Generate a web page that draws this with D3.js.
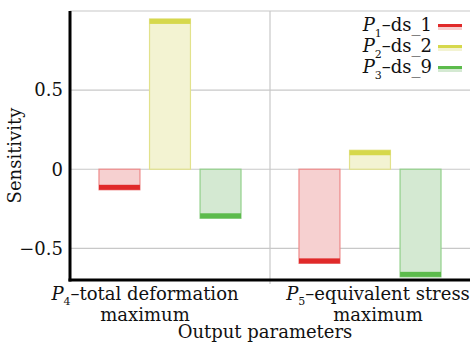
<!DOCTYPE html>
<html>
<head>
<meta charset="utf-8">
<script src="https://cdn.jsdelivr.net/npm/d3@7"></script>
<style>
  body { margin: 0; background: #fff; }
  text { font-family: "DejaVu Serif", serif; fill: #111; }
</style>
</head>
<body>
<svg id="chart" width="470" height="342"></svg>
<script>
// ── Data ──────────────────────────────────────────────────────────────────────
const categories = ['P4', 'P5'];
const categoryNames = [
  { sym: 'P', sub: '4', rest: '–total deformation', line2: 'maximum' },
  { sym: 'P', sub: '5', rest: '–equivalent stress', line2: 'maximum' }
];
const seriesNames = ['ds_1', 'ds_2', 'ds_9'];
const seriesSubs = ['1', '2', '3'];
const ds1 = [-0.13, -0.595];
const ds2 = [0.95, 0.12];
const ds9 = [-0.31, -0.68];
const yTicks = [-0.5, 0, 0.5];

const colors = [
  { cap: '#e02a2a', fill: '#f6d0d0', stroke: '#ee8a8a' },
  { cap: '#d6d84c', fill: '#f3f3d2', stroke: '#e2e28c' },
  { cap: '#5cbb4c', fill: '#d4e9d2', stroke: '#92d08a' }
];

const svg = d3.select('#chart');
const margin = { left: 70, right: 0, top: 11, bottom: 62 };
const W = 470, H = 342;
const FS = 18;

const x = d3.scaleBand().domain(categories).range([margin.left, W - margin.right]);
const xs = d3.scaleBand().domain(seriesNames).range([29, 171]).paddingInner(0.19).paddingOuter(0);
const y = d3.scaleLinear().domain([-0.7, 1.0]).range([H - margin.bottom, margin.top]);

// ── Grid ──────────────────────────────────────────────────────────────────────
const grid = svg.append('g');
grid.selectAll('line.h').data(yTicks).join('line')
  .attr('x1', margin.left).attr('x2', W)
  .attr('y1', d => y(d)).attr('y2', d => y(d))
  .attr('stroke', '#c8c8c8').attr('stroke-width', 1.2);
grid.append('line')
  .attr('x1', margin.left).attr('x2', W)
  .attr('y1', y(1.0)).attr('y2', y(1.0))
  .attr('stroke', '#c8c8c8').attr('stroke-width', 1.2);
grid.selectAll('line.v').data(categories.slice(1)).join('line')
  .attr('x1', d => x(d)).attr('x2', d => x(d))
  .attr('y1', y(1.0)).attr('y2', y(-0.7) + 4)
  .attr('stroke', '#c8c8c8').attr('stroke-width', 1.2);

// ── Bars ──────────────────────────────────────────────────────────────────────
const series = [ds1, ds2, ds9];
const capH = 5;
series.forEach((vals, si) => {
  const g = svg.append('g');
  const c = colors[si];
  const data = vals.map((v, i) => ({ cat: categories[i], v }));
  g.selectAll('rect.body').data(data).join('rect')
    .attr('x', d => x(d.cat) + xs(seriesNames[si]))
    .attr('width', xs.bandwidth())
    .attr('y', d => Math.min(y(d.v), y(0)))
    .attr('height', d => Math.abs(y(d.v) - y(0)))
    .attr('fill', c.fill).attr('stroke', c.stroke).attr('stroke-width', 1.2);
  g.selectAll('rect.cap').data(data).join('rect')
    .attr('x', d => x(d.cat) + xs(seriesNames[si]))
    .attr('width', xs.bandwidth())
    .attr('y', d => d.v >= 0 ? y(d.v) : y(d.v) - capH)
    .attr('height', capH)
    .attr('fill', c.cap);
});

// ── Axes ──────────────────────────────────────────────────────────────────────
svg.append('line')
  .attr('x1', margin.left).attr('x2', margin.left)
  .attr('y1', y(1.0)).attr('y2', y(-0.7) + 1.5)
  .attr('stroke', '#000').attr('stroke-width', 3);
svg.append('line')
  .attr('x1', margin.left - 1.5).attr('x2', W)
  .attr('y1', y(-0.7)).attr('y2', y(-0.7))
  .attr('stroke', '#000').attr('stroke-width', 3);

svg.selectAll('text.ytick').data(yTicks).join('text')
  .attr('x', margin.left - 7).attr('y', d => y(d))
  .attr('dy', '0.35em').attr('text-anchor', 'end')
  .attr('font-size', FS)
  .text(d => d === 0 ? '0' : d3.format('.1f')(d).replace('-', '−'));

svg.append('text')
  .attr('transform', `translate(21,${(y(1.0) + y(-0.7)) / 2 + 10}) rotate(-90)`)
  .attr('text-anchor', 'middle').attr('font-size', FS)
  .text('Sensitivity');

// category labels
const labelShift = [-25, 8];
categoryNames.forEach((c, i) => {
  const cx = x(categories[i]) + x.bandwidth() / 2 + labelShift[i];
  const t = svg.append('text').attr('x', cx).attr('y', 300)
    .attr('text-anchor', 'middle').attr('font-size', FS);
  t.append('tspan').attr('font-style', 'italic').text(c.sym);
  t.append('tspan').attr('font-size', 11).attr('dy', 5).text(c.sub);
  t.append('tspan').attr('dy', -5).text(c.rest);
  svg.append('text').attr('x', cx).attr('y', 321)
    .attr('text-anchor', 'middle').attr('font-size', FS)
    .text(c.line2);
});

svg.append('text')
  .attr('x', 265).attr('y', 338)
  .attr('text-anchor', 'middle').attr('font-size', FS)
  .text('Output parameters');

// ── Legend ────────────────────────────────────────────────────────────────────
const legend = svg.append('g');
seriesNames.forEach((s, i) => {
  const ly = 31 + i * 21;
  const t = legend.append('text').attr('x', 432).attr('y', ly)
    .attr('text-anchor', 'end').attr('font-size', FS);
  t.append('tspan').attr('font-style', 'italic').text('P');
  t.append('tspan').attr('font-size', 11).attr('dy', 6).text(seriesSubs[i]);
  t.append('tspan').attr('dy', -6).text('–' + s);
  legend.append('rect').attr('x', 438).attr('y', ly - 7).attr('width', 24).attr('height', 3)
    .attr('fill', colors[i].cap);
  legend.append('rect').attr('x', 438).attr('y', ly - 4).attr('width', 24).attr('height', 3)
    .attr('fill', colors[i].fill);
});
</script>
</body>
</html>
